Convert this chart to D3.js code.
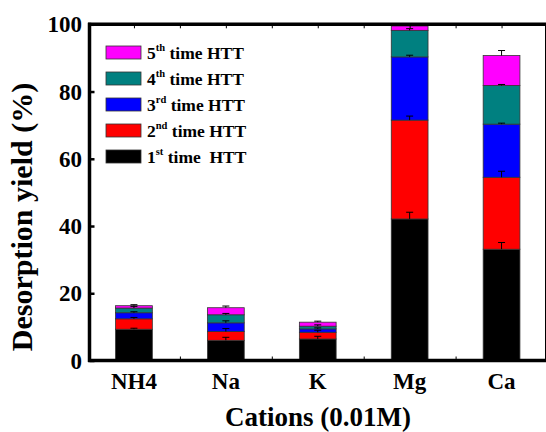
<!DOCTYPE html>
<html lang="en">
  <head>
    <meta charset="UTF-8"/>
    <title>Desorption yield</title>
    <script src="https://d3js.org/d3.v7.min.js"></script>
    <style>
      body { margin: 0; background: #fff; }
      text {
        font-family: 'Liberation Serif', 'Times New Roman', Times, serif;
        font-weight: bold;
        fill: #000;
      }
      .tick-label { font-size: 23px; }
      .axis-label { font-size: 27px; }
      .y-title { font-size: 30px; }
      .legend text { font-size: 17.5px; white-space: pre; }
      .legend .sup { font-size: 10.5px; }
    </style>
  </head>
  <body>
    <script type="text/javascript">

        // values (increment of each HTT step)
        const cations = ["NH4", "Na", "K", "Mg", "Ca"]
        const htt1 = [9.3, 6.0, 6.4, 42.1, 33.1]
        const htt2 = [3.1, 2.6, 2.0, 29.4, 21.4]
        const htt3 = [1.8, 2.6, 1.0, 18.8, 15.8]
        const htt4 = [1.4, 2.4, 0.8, 7.9, 11.5]
        const htt5 = [0.7, 2.1, 1.2, 1.3, 8.9]
        const err1 = [0.3, 0.9, 0.8, 2.0, 2.0]
        const err2 = [0.4, 0.9, 0.6, 1.2, 1.8]
        const err3 = [0.3, 0.6, 0.3, 0.5, 0.3]
        const err4 = [0.5, 0.4, 0.4, 0.5, 0.3]
        const err5 = [0.3, 0.5, 0.3, 0.3, 1.5]
        const yTicks = [0, 20, 40, 60, 80, 100]
        const seriesKeys = ["h1", "h2", "h3", "h4", "h5"]
        const seriesOrdinal = ["1", "2", "3", "4", "5"]
        const seriesSuffix = ["st", "nd", "rd", "th", "th"]
        const seriesAfter = [" time  HTT", " time HTT", " time HTT", " time HTT", " time HTT"]
        const colors = ["#000000", "#ff0000", "#0000ff", "#008080", "#ff00ff"]

        const outerWidth = 546, outerHeight = 432
        const plotLeft = 89.5, plotRight = 545.5, plotTop = 24.3, plotBottom = 360.5

        const svg = d3.select("body").append("svg")
            .attr("width", outerWidth)
            .attr("height", outerHeight)

        const table = cations.map((c, i) => ({
            cation: c, idx: i + 1,
            h1: htt1[i], h2: htt2[i], h3: htt3[i], h4: htt4[i], h5: htt5[i]
        }))
        const errs = [err1, err2, err3, err4, err5]

        const xScale = d3.scaleLinear().domain([0.5, 5.5]).range([88, 547.5])
        const yScale = d3.scaleLinear().domain([0, 100]).range([plotBottom, plotTop])
        const barW = xScale(0.4) - xScale(0)

        const stacked = d3.stack().keys(seriesKeys)(table)

        // bars
        const layers = svg.append("g").selectAll("g")
            .data(stacked)
            .join("g")
            .attr("fill", (d, i) => colors[i])

        layers.selectAll("rect")
            .data(d => d)
            .join("rect")
            .attr("x", d => xScale(d.data.idx) - barW / 2)
            .attr("width", barW)
            .attr("y", d => yScale(d[1]))
            .attr("height", d => yScale(d[0]) - yScale(d[1]))
            .attr("stroke", "#333")
            .attr("stroke-width", 0.8)

        // error bars (upper whisker only)
        const errData = []
        stacked.forEach((layer, s) => layer.forEach((d, i) => {
            errData.push({x: d.data.idx, top: d[1], e: errs[s][i]})
        }))
        const eg = svg.append("g").attr("stroke", "#000").attr("stroke-width", 1)
        eg.selectAll("line.v").data(errData).join("line")
            .attr("class", "v")
            .attr("x1", d => xScale(d.x)).attr("x2", d => xScale(d.x))
            .attr("y1", d => yScale(d.top)).attr("y2", d => yScale(d.top + d.e))
        eg.selectAll("line.c").data(errData).join("line")
            .attr("class", "c")
            .attr("x1", d => xScale(d.x) - 3.5).attr("x2", d => xScale(d.x) + 3.5)
            .attr("y1", d => yScale(d.top + d.e)).attr("y2", d => yScale(d.top + d.e))

        // frame
        const frame = svg.append("g").attr("stroke", "#000").attr("fill", "none")
        frame.append("line").attr("x1", plotRight).attr("x2", plotRight).attr("y1", plotTop).attr("y2", plotBottom).attr("stroke-width", 1)
        frame.append("line").attr("x1", plotLeft - 1.5).attr("x2", outerWidth).attr("y1", plotTop).attr("y2", plotTop).attr("stroke-width", 3.5)
        frame.append("line").attr("x1", plotLeft - 1.5).attr("x2", outerWidth).attr("y1", plotBottom).attr("y2", plotBottom).attr("stroke-width", 3.5)
        frame.append("line").attr("x1", plotLeft).attr("x2", plotLeft).attr("y1", plotTop - 1.5).attr("y2", plotBottom + 1.5).attr("stroke-width", 3.5)

        // y axis
        const yAxisG = svg.append("g")
            .attr("transform", `translate(${plotLeft},0)`)
            .call(d3.axisRight(yScale).tickValues(yTicks).tickSize(5).tickFormat(""))
        yAxisG.select(".domain").remove()
        yAxisG.selectAll(".tick line").attr("stroke-width", 2.5)

        svg.append("g").selectAll("text")
            .data(yTicks)
            .join("text")
            .attr("class", "tick-label")
            .attr("text-anchor", "end")
            .attr("x", 82)
            .attr("y", d => yScale(d))
            .attr("dy", "0.35em")
            .text(d => d)

        // x axis minor ticks
        const mids = [1.5, 2.5, 3.5, 4.5]
        svg.append("g")
            .attr("transform", `translate(0,${plotBottom})`)
            .call(d3.axisTop(xScale).tickValues(mids).tickSize(4).tickFormat(""))
            .call(g => g.select(".domain").remove())
        svg.append("g")
            .attr("transform", `translate(0,${plotTop})`)
            .call(d3.axisBottom(xScale).tickValues([1, 2, 3, 4, 5].concat(mids)).tickSize(4).tickFormat(""))
            .call(g => g.select(".domain").remove())

        svg.append("g").selectAll("text")
            .data(cations)
            .join("text")
            .attr("class", "tick-label")
            .attr("text-anchor", "middle")
            .attr("x", (d, i) => xScale(i + 1))
            .attr("y", 389)
            .text(d => d)

        // axis titles
        svg.append("text")
            .attr("class", "axis-label")
            .attr("text-anchor", "middle")
            .attr("x", 318)
            .attr("y", 426)
            .text("Cations (0.01M)")

        svg.append("text")
            .attr("class", "axis-label y-title")
            .attr("text-anchor", "middle")
            .attr("transform", "translate(32,217) rotate(-90)")
            .text("Desorption yield (%)")

        // legend, top row = 5th
        const legend = svg.append("g").attr("class", "legend")
        const rows = d3.range(5).reverse()
        const item = legend.selectAll("g")
            .data(rows)
            .join("g")
            .attr("transform", (d, r) => `translate(106,${52.5 + r * 26})`)

        item.append("rect")
            .attr("x", 0).attr("y", -6.5)
            .attr("width", 35).attr("height", 13)
            .attr("fill", d => colors[d])
            .attr("stroke", "#333")
            .attr("stroke-width", 0.8)

        const lt = item.append("text")
            .attr("x", 41)
            .attr("y", 6)
        lt.append("tspan").text(d => seriesOrdinal[d])
        lt.append("tspan").attr("class", "sup").attr("dy", -8).text(d => seriesSuffix[d])
        lt.append("tspan").attr("dy", 8).text(d => seriesAfter[d])

    </script>
  </body>
</html>
